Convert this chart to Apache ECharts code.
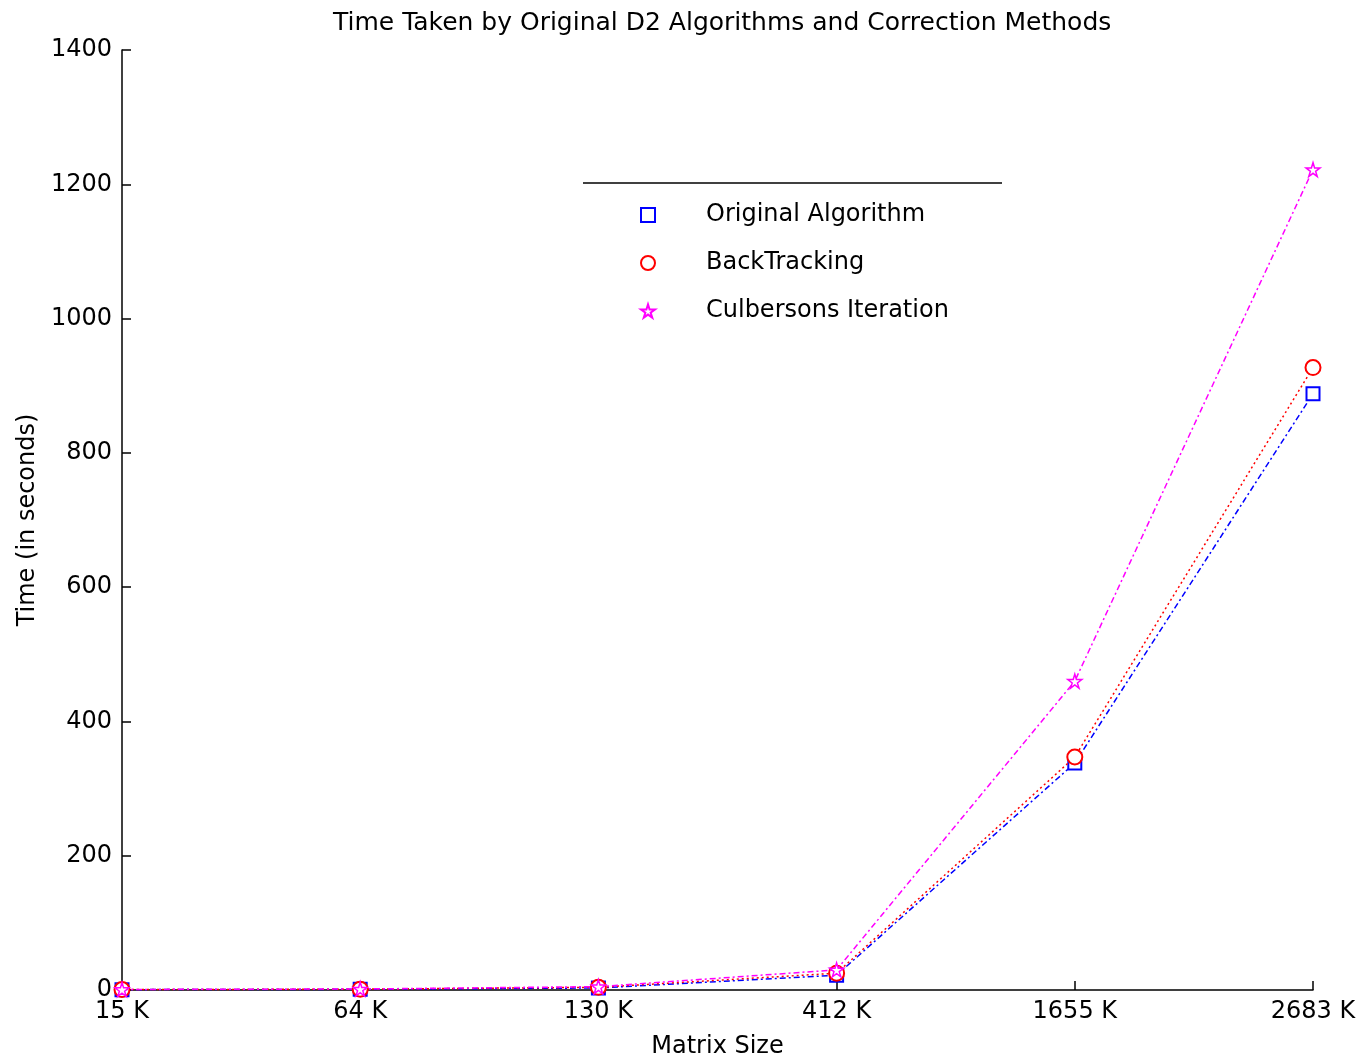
<!DOCTYPE html>
<html>
<head>
<meta charset="utf-8">
<script src="https://cdn.jsdelivr.net/npm/echarts@6/dist/echarts.min.js"></script>
<style>
  html, body { margin: 0; padding: 0; background: #fff; }
  #main { width: 1363px; height: 1063px; }
</style>
</head>
<body>
<div id="main"></div>
<script>
// matrix sizes on the x axis
var categories = ['15 K', '64 K', '130 K', '412 K', '1655 K', '2683 K'];
// time in seconds
var originalAlgorithm = [0.5, 1, 3, 22, 338, 888];
var backTracking = [0.6, 1.2, 4, 25, 347, 927];
var culbersonsIteration = [0.8, 1.5, 5, 30, 460, 1222];
var yTicks = [0, 200, 400, 600, 800, 1000, 1200, 1400];

var starPath = 'path://M50,0 L61,35 L98,35 L68,57 L79,91 L50,70 L21,91 L32,57 L2,35 L39,35 Z';

var myChart = echarts.init(document.getElementById('main'));
var font = 'DejaVu Sans, sans-serif';

myChart.setOption({
  animation: false,
  title: {
    text: 'Time Taken by Original D2 Algorithms and Correction Methods',
    left: 328,
    top: 6,
    textStyle: { fontFamily: font, fontSize: 25, fontWeight: 'normal', color: '#000' }
  },
  grid: { left: 122, right: 50, top: 50, bottom: 73, outerBoundsMode: 'none', containLabel: false },
  legend: {
    orient: 'vertical',
    left: 640,
    top: 203,
    padding: 0,
    itemGap: 24,
    itemWidth: 14,
    itemHeight: 14,
    textStyle: { fontFamily: font, fontSize: 24, lineHeight: 24, color: '#000', padding: [0, 0, 0, 46] },
    data: [
      { name: 'Original Algorithm', icon: 'emptyRect' },
      { name: 'BackTracking', icon: 'emptyCircle' },
      { name: 'Culbersons Iteration', icon: starPath }
    ]
  },
  graphic: [{
    type: 'line',
    shape: { x1: 583, y1: 183, x2: 1002, y2: 183 },
    style: { stroke: '#000', lineWidth: 1.5 }
  }],
  xAxis: {
    type: 'category',
    data: categories,
    boundaryGap: false,
    name: 'Matrix Size',
    nameLocation: 'middle',
    nameGap: 45,
    nameTextStyle: { fontFamily: font, fontSize: 24, color: '#000' },
    axisLine: { lineStyle: { color: '#000', width: 1.5 } },
    axisTick: { show: true, inside: true, length: 9, alignWithLabel: true, lineStyle: { color: '#000', width: 1.5 } },
    axisLabel: { fontFamily: font, fontSize: 24, color: '#000', margin: 10 },
    splitLine: { show: false }
  },
  yAxis: {
    type: 'value',
    min: 0,
    max: 1400,
    interval: 200,
    name: 'Time (in seconds)',
    nameLocation: 'middle',
    nameGap: 75,
    nameTextStyle: { fontFamily: font, fontSize: 24, color: '#000' },
    axisLine: { show: true, lineStyle: { color: '#000', width: 1.5 } },
    axisTick: { show: true, inside: true, length: 9, lineStyle: { color: '#000', width: 1.5 } },
    axisLabel: {
      fontFamily: font, fontSize: 24, color: '#000', margin: 10,
      formatter: function (v) { return yTicks.indexOf(v) >= 0 ? String(v) : ''; }
    },
    splitLine: { show: false }
  },
  series: [
    {
      name: 'Original Algorithm',
      type: 'line',
      data: originalAlgorithm,
      symbol: 'emptyRect',
      symbolSize: 13,
      color: '#0000ff',
      itemStyle: { color: '#0000ff', borderWidth: 2 },
      lineStyle: { color: '#0000ff', width: 1.5, type: [6, 3, 2, 3] },
      z: 3
    },
    {
      name: 'BackTracking',
      type: 'line',
      data: backTracking,
      symbol: 'emptyCircle',
      symbolSize: 15,
      color: '#ff0000',
      itemStyle: { color: '#ff0000', borderWidth: 2 },
      lineStyle: { color: '#ff0000', width: 1.5, type: [2, 3] },
      z: 4
    },
    {
      name: 'Culbersons Iteration',
      type: 'line',
      data: culbersonsIteration,
      symbol: starPath,
      symbolSize: 14,
      color: '#ff00ff',
      itemStyle: { color: '#fff', borderColor: '#ff00ff', borderWidth: 1.5 },
      lineStyle: { color: '#ff00ff', width: 1.5, type: [6, 3, 2, 3] },
      z: 5
    }
  ]
});
</script>
</body>
</html>
